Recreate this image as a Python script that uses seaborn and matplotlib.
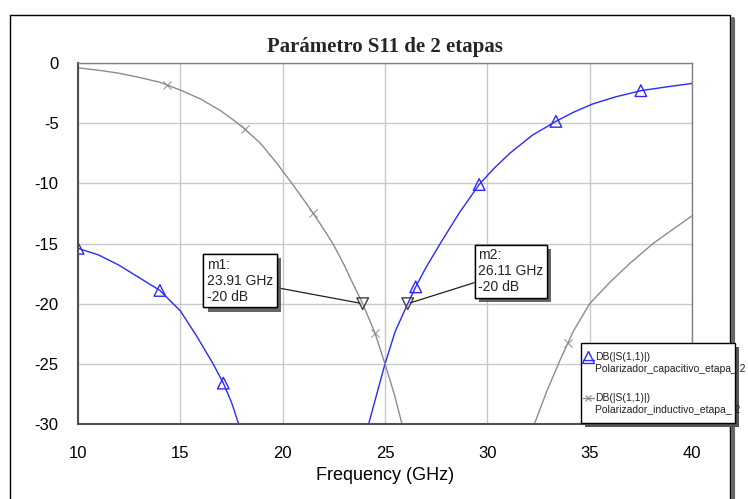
import numpy as np
import pandas as pd
import seaborn as sns
import matplotlib
matplotlib.use("Agg")
import matplotlib.pyplot as plt
from matplotlib.patches import Rectangle
from matplotlib.lines import Line2D
import matplotlib.patheffects as pe

# ---------------- data ----------------
cap_left_ghz = [10.0, 11.0, 12.0, 13.0, 14.0, 15.0, 15.8, 16.6, 17.1, 17.5, 17.85, 18.2]
cap_left_db = [-15.4, -15.95, -16.8, -17.85, -18.9, -20.6, -22.7, -25.0, -26.6, -28.2, -30.0, -32.0]
cap_right_ghz = [23.9, 24.2, 24.6, 25.0, 25.5, 26.11, 26.5, 27.0, 27.7, 28.65, 29.6, 30.3,
                 31.1, 32.2, 33.35, 34.2, 35.15, 36.3, 37.5, 38.7, 40.0]
cap_right_db = [-31.5, -30.0, -27.5, -25.0, -22.3, -20.0, -18.6, -17.0, -15.0, -12.4, -10.1, -8.8,
                -7.5, -6.0, -4.85, -4.1, -3.4, -2.8, -2.3, -2.0, -1.7]
ind_left_ghz = [10.0, 11.0, 12.0, 13.0, 14.0, 15.0, 16.0, 17.0, 17.8, 18.15, 18.9, 19.7, 20.45,
                21.0, 21.5, 22.0, 22.45, 22.95, 23.45, 23.91, 24.5, 25.0, 25.45, 25.83, 26.1]
ind_left_db = [-0.4, -0.6, -0.85, -1.2, -1.6, -2.25, -3.0, -4.0, -5.0, -5.5, -6.65, -8.3, -10.0,
               -11.3, -12.5, -13.8, -15.0, -16.6, -18.4, -20.0, -22.4, -25.0, -27.5, -30.0, -31.8]
ind_right_ghz = [32.0, 32.3, 32.9, 33.55, 34.2, 35.0, 36.0, 37.0, 38.1, 39.0, 40.0]
ind_right_db = [-31.5, -30.0, -27.3, -24.7, -22.3, -20.0, -18.2, -16.6, -15.0, -13.9, -12.7]

cap_mark_ghz = [10.0, 14.0, 17.1, 26.5, 29.6, 33.35, 37.5]
cap_mark_db = [-15.4, -18.9, -26.6, -18.6, -10.1, -4.85, -2.3]
ind_mark_ghz = [14.35, 18.15, 21.5, 24.5, 33.95]
ind_mark_db = [-1.8, -5.5, -12.5, -22.4, -23.3]

marker_names = ["m1", "m2"]
marker_ghz = [23.91, 26.11]
marker_db = [-20.0, -20.0]

x_ticks = [10, 15, 20, 25, 30, 35, 40]
y_ticks = [0, -5, -10, -15, -20, -25, -30]

title = "Parámetro S11 de 2 etapas"
xlabel = "Frequency (GHz)"
legend_labels = [("DB(|S(1,1)|)", "Polarizador_capacitivo_etapa_ 2"),
                 ("DB(|S(1,1)|)", "Polarizador_inductivo_etapa_ 2")]

# ---------------- style ----------------
sns.set_theme(style="white")
plt.rcParams["font.family"] = ["Liberation Sans", "DejaVu Sans"]

BLUE = "#2a2aff"
GRAY = "#8c8c8c"

W, H = 748, 499
fig = plt.figure(figsize=(W / 100, H / 100), dpi=100)
ax = fig.add_axes([78 / W, 1 - 424 / H, (692 - 78) / W, (424 - 63) / H])

def px(x, y):
    return (x / W, 1 - y / H)

# lines
for xs, ys, c in [(cap_left_ghz, cap_left_db, BLUE), (cap_right_ghz, cap_right_db, BLUE),
                  (ind_left_ghz, ind_left_db, GRAY), (ind_right_ghz, ind_right_db, GRAY)]:
    df = pd.DataFrame({"f": xs, "db": ys})
    sns.lineplot(data=df, x="f", y="db", ax=ax, color=c, lw=1.0, sort=False,
                 estimator=None, legend=False)

sns.scatterplot(x=cap_mark_ghz, y=cap_mark_db, ax=ax, marker="^", s=70,
                facecolors="none", edgecolor=BLUE, linewidth=1.0, color=BLUE, legend=False)
sns.scatterplot(x=ind_mark_ghz, y=ind_mark_db, ax=ax, marker="x", s=35,
                color=GRAY, linewidth=0.7, legend=False)
sns.scatterplot(x=marker_ghz, y=marker_db, ax=ax, marker="v", s=70,
                facecolors="none", edgecolor="#404040", linewidth=1.0, legend=False, zorder=5)

ax.set_xlim(10, 40)
ax.set_ylim(-30, 0)
ax.set_xticks(x_ticks)
ax.set_yticks(y_ticks)
ax.set_xticklabels([str(v) for v in x_ticks])
ax.set_yticklabels([str(v) for v in y_ticks])
ax.tick_params(axis="both", length=0, labelsize=12, colors="black")
ax.tick_params(axis="x", pad=16)
ax.tick_params(axis="y", pad=14)
ax.grid(True, color="#c8c8c8", lw=1.0)
ax.set_axisbelow(True)
for s in ["left", "bottom"]:
    ax.spines[s].set_color("#505050")
    ax.spines[s].set_linewidth(1.5)
for s in ["top", "right"]:
    ax.spines[s].set_color("#808080")
    ax.spines[s].set_linewidth(1.0)
ax.set_xlabel(xlabel, fontsize=13, labelpad=4, color="black")
ax.set_ylabel("")
ax.set_title(title, fontsize=15, fontweight="bold", family=["Liberation Serif", "DejaVu Serif"],
             pad=8)

# marker annotations
box_pos = [(16.3, -18.1), (29.55, -17.3)]
for name, fx, fy, (tx, ty) in zip(marker_names, marker_ghz, marker_db, box_pos):
    label = f"{name}:\n{fx:.2f} GHz\n{fy:.0f} dB"
    t = ax.annotate(label, xy=(fx, fy), xytext=(tx, ty), ha="left", va="center",
                    fontsize=10, linespacing=1.2,
                    bbox=dict(boxstyle="square,pad=0.25", fc="white", ec="black", lw=1.0),
                    arrowprops=dict(arrowstyle="-", color="#202020", lw=0.9,
                                    shrinkA=0, shrinkB=2),
                    zorder=6)
    t.get_bbox_patch().set_path_effects([pe.withSimplePatchShadow(offset=(3, -3),
                                                                  shadow_rgbFace="#555555",
                                                                  alpha=0.9), pe.Normal()])

# legend box (manual)
lx0, ly0, lx1, ly1 = 581, 343, 735, 423
shadow = Rectangle(px(lx0 + 4, ly1 + 4), (lx1 - lx0) / W, (ly1 - ly0) / H,
                   transform=fig.transFigure, fc="#555555", ec="none", zorder=9)
box = Rectangle(px(lx0, ly1), (lx1 - lx0) / W, (ly1 - ly0) / H,
                transform=fig.transFigure, fc="white", ec="black", lw=1.0, zorder=10)
fig.add_artist(shadow)
fig.add_artist(box)
entry_y = [357, 398]
colors = [BLUE, GRAY]
for (l1, l2), yy, c, i in zip(legend_labels, entry_y, colors, range(2)):
    fig.text(*px(595, yy), l1, fontsize=7.5, ha="left", va="center", zorder=11, color="#202020")
    fig.text(*px(595, yy + 12), l2, fontsize=7.5, ha="left", va="center", zorder=11, color="#202020")
    if i == 0:
        fig.add_artist(Line2D([583 / W, 594 / W], [1 - (yy + 3) / H] * 2, color=c, lw=1.0,
                              transform=fig.transFigure, zorder=11))
        fig.add_artist(Line2D([588 / W], [1 - yy / H], marker="^", ms=8, mfc="none", mec=c,
                              mew=1.0, transform=fig.transFigure, zorder=11))
    else:
        fig.add_artist(Line2D([583 / W, 594 / W], [1 - yy / H] * 2, color=c, lw=1.0,
                              transform=fig.transFigure, zorder=11))
        fig.add_artist(Line2D([588 / W], [1 - yy / H], marker="x", ms=5, mec=c,
                              mew=0.8, transform=fig.transFigure, zorder=11))

# figure border
fig.add_artist(Line2D([10 / W, 10 / W], [1 - 15 / H, 0], color="black", lw=1.0,
                      transform=fig.transFigure))
fig.add_artist(Line2D([10 / W, 730 / W], [1 - 15 / H, 1 - 15 / H], color="black", lw=1.0,
                      transform=fig.transFigure))
fig.add_artist(Line2D([730 / W, 730 / W], [1 - 15 / H, 0], color="black", lw=1.0,
                      transform=fig.transFigure))
fig.add_artist(Line2D([733 / W, 733 / W], [1 - 19 / H, 0], color="#666666", lw=3.0,
                      transform=fig.transFigure))

fig.savefig("out.png", dpi=100)
